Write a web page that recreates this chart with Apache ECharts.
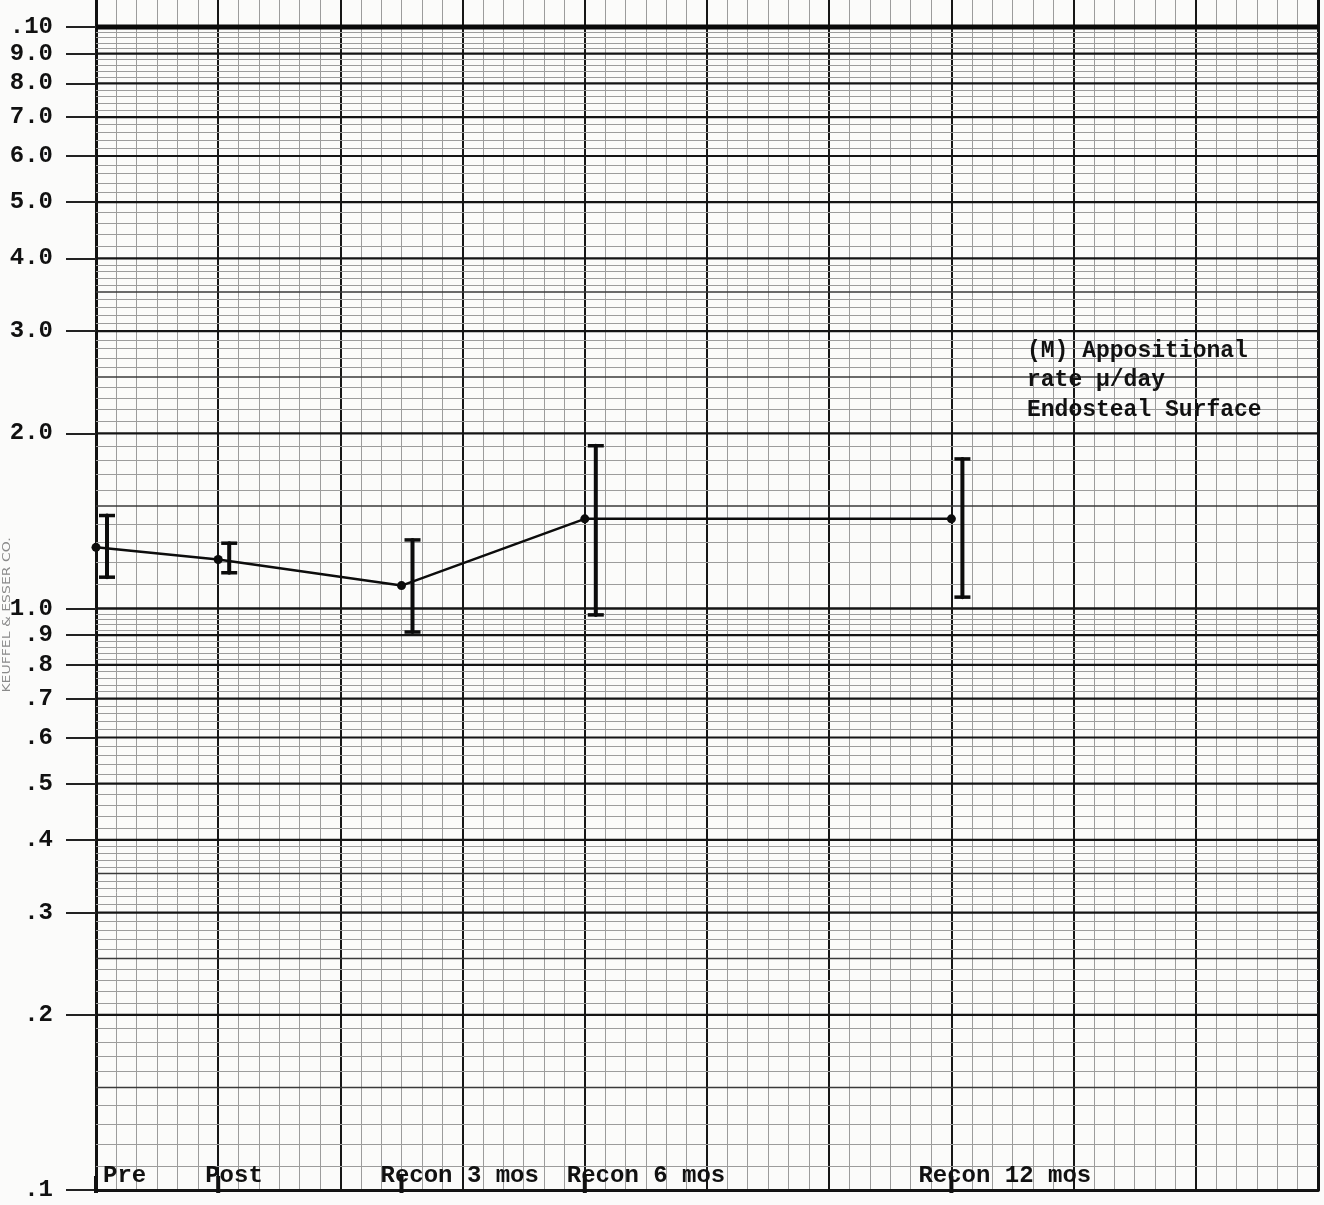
<!DOCTYPE html>
<html>
<head>
<meta charset="utf-8">
<title>Appositional rate, endosteal surface</title>
<script src="https://cdn.jsdelivr.net/npm/echarts@6/dist/echarts.min.js"></script>
<style>
  html, body { margin: 0; padding: 0; background: #fbfbfa; }
  #chart { width: 1324px; height: 1205px; }
</style>
</head>
<body>
<div id="chart"></div>
<script>
// Study stages and their positions along the horizontal scale
const stageNames = ['Pre', 'Post', 'Recon 3 mos', 'Recon 6 mos', 'Recon 12 mos'];
const stagePos = [0, 1, 2.5, 4, 7];

// Appositional rate (μ/day), mean with upper and lower error-bar ends
const rateMean = [1.274, 1.214, 1.095, 1.426, 1.426];
const rateHigh = [1.445, 1.295, 1.312, 1.905, 1.808];
const rateLow = [1.132, 1.152, 0.911, 0.975, 1.046];

// Labelled values on the two-cycle log scale
const yTickValues = [0.1, 0.2, 0.3, 0.4, 0.5, 0.6, 0.7, 0.8, 0.9, 1, 2, 3, 4, 5, 6, 7, 8, 9, 10];
const yTickLabels = ['.1', '.2', '.3', '.4', '.5', '.6', '.7', '.8', '.9', '1.0', '2.0', '3.0', '4.0', '5.0', '6.0', '7.0', '8.0', '9.0', '.10'];

const FONT = '"Liberation Mono", "DejaVu Sans Mono", monospace';
const lg = v => Math.log10(v);
const crisp = v => Math.round(v) + 0.5;

// Ruling of the semi-log paper: 0.1 steps from 1 to 4, 0.2 steps from 4 to 10, per cycle
const ruleMajor = [];
const ruleMedium = [];
const ruleMinor = [];
[0.1, 1].forEach(cycle => {
  for (let i = 1; i <= 10; i++) ruleMajor.push(i * cycle);
  [1.5, 2.5, 3.5].forEach(m => ruleMedium.push(m * cycle));
  for (let k = 11; k < 40; k++) {
    if (k % 5 !== 0) ruleMinor.push(k / 10 * cycle);
  }
  for (let k = 42; k < 100; k += 2) {
    if (k % 10 !== 0) ruleMinor.push(k / 10 * cycle);
  }
});

const ruleData = []
  .concat(ruleMinor.map(v => [0, lg(v), 0]))
  .concat(ruleMedium.map(v => [0, lg(v), 1]))
  .concat(ruleMajor.map(v => [0, lg(v), v === 10 ? 3 : 2]));

const ruleStyle = [
  { stroke: '#9c9c9c', lineWidth: 1 },
  { stroke: '#3a3a3a', lineWidth: 1.5 },
  { stroke: '#151515', lineWidth: 2.2 },
  { stroke: '#0a0a0a', lineWidth: 5 }
];

// Hand-lettered stage labels sit a little off their marks
const stageLabelShift = [7, -13, -21, -18, -33];

const chart = echarts.init(document.getElementById('chart'), null, { renderer: 'canvas' });

chart.setOption({
  animation: false,
  backgroundColor: '#fbfbfa',
  grid: { left: 96, right: 6, top: 0, bottom: 15, containLabel: false },
  xAxis: {
    type: 'value',
    min: 0,
    max: 10,
    interval: 1,
    axisLine: { show: true, onZero: false, lineStyle: { color: '#111', width: 3 } },
    axisTick: { show: false },
    axisLabel: { show: false },
    splitLine: { show: true, lineStyle: { color: '#161616', width: 2 } },
    minorTick: { show: false, splitNumber: 6 },
    minorSplitLine: { show: true, lineStyle: { color: '#9c9c9c', width: 1 } }
  },
  yAxis: [{
    type: 'value',
    min: -1,
    max: 1.0464,
    axisLine: { show: true, lineStyle: { color: '#111', width: 3 } },
    axisTick: {
      show: true,
      length: 30,
      customValues: yTickValues.map(lg),
      lineStyle: { color: '#222', width: 2 }
    },
    axisLabel: {
      show: true,
      margin: 43,
      customValues: yTickValues.map(lg),
      fontFamily: FONT,
      fontWeight: 'bold',
      fontSize: 24,
      color: '#111',
      formatter: val => {
        let best = 0;
        yTickValues.forEach((t, i) => {
          if (Math.abs(lg(t) - val) < Math.abs(lg(yTickValues[best]) - val)) best = i;
        });
        return yTickLabels[best];
      }
    },
    splitLine: { show: false }
  }, {
    type: 'value',
    position: 'right',
    min: -1,
    max: 1.0464,
    axisLine: { show: true, lineStyle: { color: '#111', width: 3 } },
    axisTick: { show: false },
    axisLabel: { show: false },
    splitLine: { show: false }
  }],
  series: [
    {
      // horizontal rulings of the log paper
      type: 'custom',
      silent: true,
      z: 1,
      data: ruleData,
      renderItem: (params, api) => {
        const cs = params.coordSys;
        const raw = api.coord([0, api.value(1)])[1];
        const s = ruleStyle[api.value(2)];
        const y = s.lineWidth === 1 ? crisp(raw) : raw;
        return {
          type: 'line',
          shape: { x1: cs.x, y1: y, x2: cs.x + cs.width, y2: y },
          style: { stroke: s.stroke, lineWidth: s.lineWidth }
        };
      }
    },
    {
      // error bars, drawn just to the right of each mean
      type: 'custom',
      silent: true,
      z: 4,
      data: stagePos.map((x, i) => [x, lg(rateLow[i]), lg(rateHigh[i])]),
      renderItem: (params, api) => {
        const lo = api.coord([api.value(0), api.value(1)]);
        const hi = api.coord([api.value(0), api.value(2)]);
        const x = lo[0] + 11;
        const cap = 8;
        const st = { stroke: '#0c0c0c', lineWidth: 4, lineCap: 'round' };
        return {
          type: 'group',
          children: [
            { type: 'line', shape: { x1: x, y1: hi[1], x2: x, y2: lo[1] }, style: st },
            { type: 'line', shape: { x1: x - cap, y1: hi[1], x2: x + cap, y2: hi[1] }, style: { stroke: '#0c0c0c', lineWidth: 3.5 } },
            { type: 'line', shape: { x1: x - cap, y1: lo[1], x2: x + cap, y2: lo[1] }, style: { stroke: '#0c0c0c', lineWidth: 3.5 } }
          ]
        };
      }
    },
    {
      // mean appositional rate
      type: 'line',
      z: 5,
      silent: true,
      data: stagePos.map((x, i) => [x, lg(rateMean[i])]),
      symbol: 'circle',
      symbolSize: 9,
      itemStyle: { color: '#0c0c0c' },
      lineStyle: { color: '#0c0c0c', width: 2.5 }
    },
    {
      // stage marks and names along the bottom edge
      type: 'custom',
      silent: true,
      z: 6,
      data: stagePos.map((x, i) => [x, -1, i]),
      renderItem: (params, api) => {
        const p = api.coord([api.value(0), api.value(1)]);
        const i = api.value(2);
        return {
          type: 'group',
          children: [
            {
              type: 'line',
              shape: { x1: p[0], y1: p[1] - 14, x2: p[0], y2: p[1] + 3 },
              style: { stroke: '#111', lineWidth: 4 }
            },
            {
              type: 'text',
              x: p[0] + stageLabelShift[i],
              y: p[1] - 14,
              style: {
                text: stageNames[i],
                fontFamily: FONT,
                fontWeight: 'bold',
                fontSize: 24,
                fill: '#111',
                align: 'left',
                verticalAlign: 'middle'
              }
            }
          ]
        };
      }
    }
  ],
  graphic: [
    {
      type: 'text',
      left: 1027,
      top: 336,
      z: 10,
      style: {
        text: '(M) Appositional\nrate μ/day\nEndosteal Surface',
        fontFamily: FONT,
        fontWeight: 'bold',
        fontSize: 23,
        lineHeight: 29.5,
        fill: '#111'
      }
    },
    {
      type: 'text',
      x: 7,
      y: 615,
      rotation: Math.PI / 2,
      scaleX: 1.4,
      z: 10,
      style: {
        text: 'KEUFFEL & ESSER CO.',
        fontFamily: '"DejaVu Sans", sans-serif',
        fontSize: 10,
        fill: '#8a8a8a',
        align: 'center',
        verticalAlign: 'middle'
      }
    }
  ]
});
</script>
</body>
</html>
